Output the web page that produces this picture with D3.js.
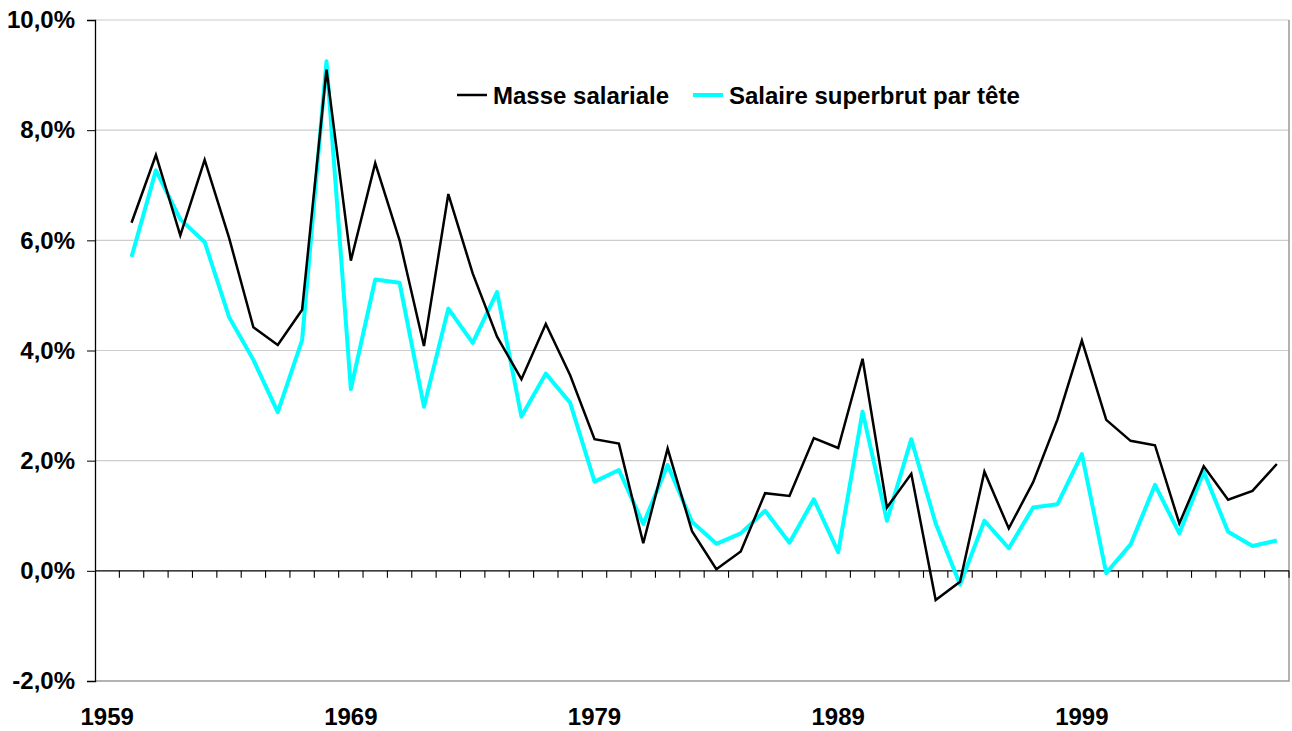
<!DOCTYPE html>
<html>
<head>
<meta charset="utf-8">
<script src="https://cdn.jsdelivr.net/npm/d3@7"></script>
<style>
  body { margin: 0; background: #fff; }
  text { font-family: Arial, "Liberation Sans", sans-serif; font-weight: bold; }
</style>
</head>
<body>
<script>
// years 1959..2007, no value for 1959
var years = d3.range(1959, 2008);
var masse = [null,
  6.32, 7.55, 6.09, 7.46, 6.05, 4.42, 4.10, 4.74, 9.10, 5.63,
  7.40, 6.00, 4.08, 6.84, 5.40, 4.25, 3.48, 4.48, 3.55, 2.39,
  2.31, 0.50, 2.22, 0.72, 0.03, 0.35, 1.41, 1.36, 2.41, 2.23,
  3.85, 1.15, 1.76, -0.53, -0.20, 1.80, 0.77, 1.61, 2.75, 4.18,
  2.74, 2.36, 2.28, 0.86, 1.90, 1.29, 1.45, 1.94];
var salaire = [null,
  5.70, 7.27, 6.38, 5.97, 4.61, 3.83, 2.88, 4.19, 9.25, 3.30,
  5.29, 5.23, 2.98, 4.76, 4.14, 5.06, 2.80, 3.58, 3.05, 1.62,
  1.83, 0.85, 1.92, 0.89, 0.49, 0.68, 1.09, 0.51, 1.30, 0.34,
  2.89, 0.91, 2.39, 0.86, -0.25, 0.91, 0.41, 1.15, 1.21, 2.12,
  -0.04, 0.48, 1.56, 0.68, 1.80, 0.71, 0.45, 0.55];
var yTicks = [-2, 0, 2, 4, 6, 8, 10];
var xLabels = [1959, 1969, 1979, 1989, 1999];

var width = 1292, height = 731;
var margin = {top: 20, right: 3, bottom: 50, left: 95};

var svg = d3.select('body').append('svg')
  .attr('width', width)
  .attr('height', height);

var x = d3.scaleBand().domain(years).range([margin.left, width - margin.right]);
var y = d3.scaleLinear().domain([-2, 10]).range([height - margin.bottom, margin.top]);

// gridlines
svg.append('g')
  .selectAll('line')
  .data(yTicks.filter(function(d) { return d > 0; }))
  .enter().append('line')
  .attr('x1', margin.left).attr('x2', width - margin.right)
  .attr('y1', function(d) { return y(d); })
  .attr('y2', function(d) { return y(d); })
  .attr('stroke', '#cccccc')
  .attr('stroke-width', 1.2);

// plot border (right + bottom)
svg.append('path')
  .attr('d', 'M' + (width - margin.right) + ',' + y(10) + 'V' + y(-2) + 'H' + margin.left)
  .attr('fill', 'none')
  .attr('stroke', '#999999')
  .attr('stroke-width', 1.5);

// y axis
var yAxis = svg.append('g')
  .attr('transform', 'translate(' + margin.left + ',0)')
  .call(d3.axisLeft(y).tickValues(yTicks).tickSize(8).tickPadding(12)
    .tickFormat(function(d) { return d3.format('.1f')(d).replace('.', ',').replace('\u2212', '-') + '%'; }));
yAxis.select('.domain').attr('stroke', '#000').attr('stroke-width', 1.3);
yAxis.selectAll('.tick line').attr('stroke', '#000');
yAxis.selectAll('text').style('font-size', '24px').attr('fill', '#000');

// x axis on zero line, ticks at category boundaries
svg.append('line')
  .attr('x1', margin.left).attr('x2', width - margin.right)
  .attr('y1', y(0)).attr('y2', y(0))
  .attr('stroke', '#000').attr('stroke-width', 1.3);

svg.append('g')
  .selectAll('line')
  .data(years.slice(1).concat(['end']))
  .enter().append('line')
  .attr('x1', function(d) { return d === 'end' ? x.range()[1] : x(d); })
  .attr('x2', function(d) { return d === 'end' ? x.range()[1] : x(d); })
  .attr('y1', y(0)).attr('y2', y(0) + 7)
  .attr('stroke', '#000').attr('stroke-width', 1.1);

svg.append('g')
  .selectAll('text')
  .data(xLabels)
  .enter().append('text')
  .attr('x', function(d) { return x(d) + x.bandwidth() / 2; })
  .attr('y', 725)
  .attr('text-anchor', 'middle')
  .style('font-size', '24px')
  .text(function(d) { return d; });

// lines
function line(values) {
  return d3.line()
    .defined(function(d, i) { return values[i] != null; })
    .x(function(d) { return x(d) + x.bandwidth() / 2; })
    .y(function(d, i) { return y(values[i]); })(years);
}

svg.append('path')
  .attr('d', line(salaire))
  .attr('fill', 'none')
  .attr('stroke', '#00ffff')
  .attr('stroke-width', 4)
  .attr('stroke-linejoin', 'round');

svg.append('path')
  .attr('d', line(masse))
  .attr('fill', 'none')
  .attr('stroke', '#000')
  .attr('stroke-width', 2.5)
  .attr('stroke-linejoin', 'miter');

// legend
var legend = [
  {name: 'Masse salariale', color: '#000', w: 2.5, x: 457},
  {name: 'Salaire superbrut par tête', color: '#00ffff', w: 4, x: 693}
];
var lg = svg.append('g').selectAll('g').data(legend).enter().append('g')
  .attr('transform', function(d) { return 'translate(' + d.x + ',95)'; });
lg.append('line')
  .attr('x1', 0).attr('x2', 30)
  .attr('stroke', function(d) { return d.color; })
  .attr('stroke-width', function(d) { return d.w; });
lg.append('text')
  .attr('x', 36).attr('y', 9)
  .style('font-size', '24px')
  .text(function(d) { return d.name; });
</script>
</body>
</html>
